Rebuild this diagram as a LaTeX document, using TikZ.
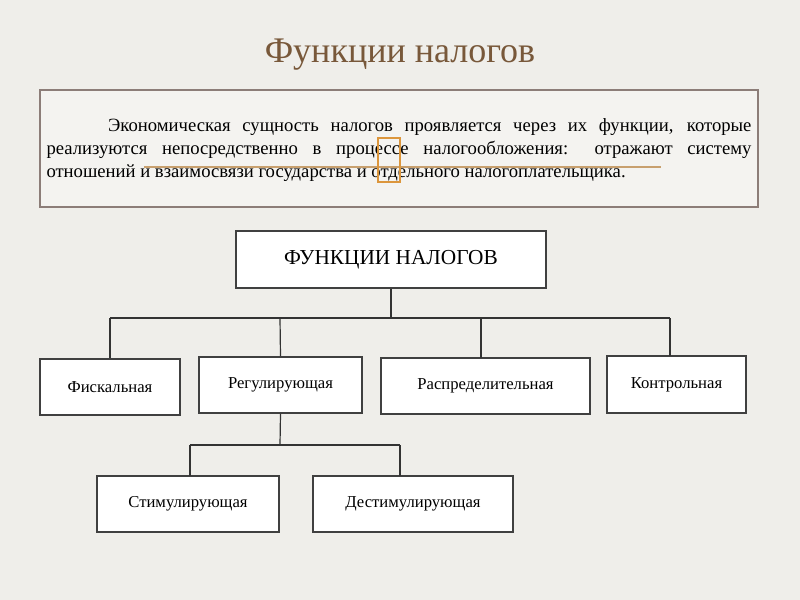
\documentclass[tikz,border=0pt]{standalone}
\usepackage{fontspec}
\setmainfont{Liberation Serif}
\definecolor{bgc}{RGB}{239,238,234}
\definecolor{titlec}{RGB}{120,88,58}
\definecolor{introborder}{RGB}{140,125,120}
\definecolor{introfill}{RGB}{244,243,240}
\definecolor{tanline}{RGB}{200,160,110}
\definecolor{orangebox}{RGB}{220,150,60}
\begin{document}
\begin{tikzpicture}[x=0.75pt,y=-0.75pt,
  box/.style={draw=black!75,fill=white,line width=0.9pt,font=\fontsize{12.5}{14}\selectfont},
  conn/.style={draw=black!80,line width=0.9pt}]
\fill[bgc] (0,0) rectangle (800,600);
\useasboundingbox (0,0) rectangle (800,600);
\node[text=titlec,font=\fontsize{27}{30}\selectfont] (title) at (400,55) {Функции налогов};
\node[draw=introborder,fill=introfill,line width=0.9pt,minimum width=538.5pt,minimum height=87.75pt,inner sep=0pt] (intro) at (399,148.5) {};
\draw[tanline,line width=0.8pt] (144,167) -- (661,167);
\node[text width=528.75pt,align=justify,font=\fontsize{14}{17.3}\selectfont,inner sep=0pt] (introtext) at (399,150) {\hspace*{3.3em}Экономическая сущность налогов проявляется через их функции, которые реализуются непосредственно в процессе налогообложения: отражают систему отношений и взаимосвязи государства и отдельного налогоплательщика.};
\draw[orangebox,line width=1.2pt] (378,138) rectangle (400,182);
\node[box,minimum width=232.5pt,minimum height=42.75pt,font=\fontsize{16}{18}\selectfont] (main) at (391,259.5) {ФУНКЦИИ НАЛОГОВ};
\node[box,minimum width=105pt,minimum height=42pt] (f1) at (110,387) {Фискальная};
\node[box,minimum width=122.25pt,minimum height=42pt] (f2) at (280.5,385) {Регулирующая};
\node[box,minimum width=156.75pt,minimum height=42pt] (f3) at (485.5,386) {Распределительная};
\node[box,minimum width=104.25pt,minimum height=42.75pt] (f4) at (676.5,384.5) {Контрольная};
\node[box,minimum width=136.5pt,minimum height=42pt] (s1) at (188,504) {Стимулирующая};
\node[box,minimum width=150pt,minimum height=42pt] (s2) at (413,504) {Дестимулирующая};
\coordinate (j1) at (391,318);
\coordinate (j2) at (280,445);
\draw[conn] (main.south) -- (j1);
\draw[conn] (110,318) -- (670,318);
\draw[conn] (110,318) -- (f1.north);
\draw[conn] (280,318) -- (f2.north);
\draw[conn] (481,318) -- (481,358);
\draw[conn] (670,318) -- (670,356);
\draw[conn] (f2.south) -- (j2);
\draw[conn] (190,445) -- (400,445);
\draw[conn] (190,445) -- (190,476);
\draw[conn] (400,445) -- (400,476);
\end{tikzpicture}
\end{document}
